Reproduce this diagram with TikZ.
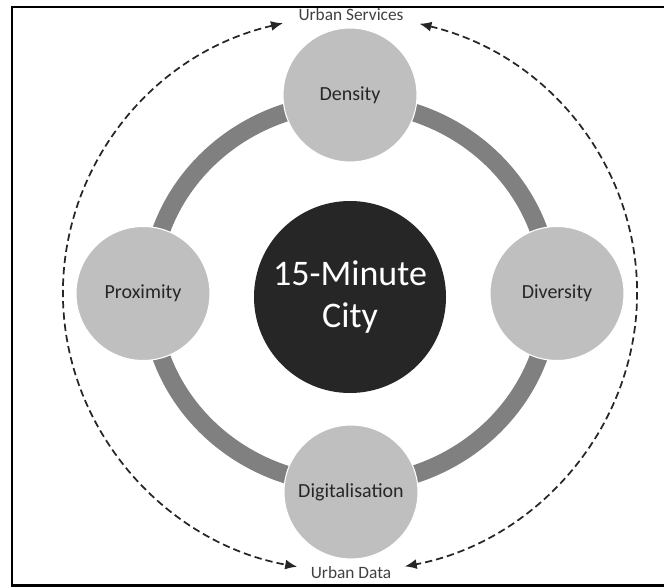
\documentclass[tikz,border=0pt]{standalone}
\usepackage{fontspec}
\setmainfont{Carlito}
\usepackage{tikz}
\usetikzlibrary{arrows.meta}
\definecolor{ringgray}{HTML}{808080}
\definecolor{discgray}{HTML}{BFBFBF}
\definecolor{coredark}{HTML}{262626}
\definecolor{labelgray}{HTML}{404040}

\begin{document}
\begin{tikzpicture}[x=0.75pt, y=0.75pt, >={Latex[length=9pt, width=7.5pt]},
    pillar/.style={draw=white, line width=0.8pt, shape=circle, fill=discgray, minimum size=100.5pt, inner sep=0pt, text=coredark, font=\fontsize{15}{18}\selectfont},
    rim/.style={text=labelgray, font=\fontsize{13}{15}\selectfont, inner sep=1pt},
    flow/.style={dash pattern=on 5.5pt off 3pt, line width=1.3pt, color=coredark}]
      \useasboundingbox (0,0) rectangle (664,587);
      % frame, open on the right
      \draw[line width=1.9pt] (664,580) -- (12,580) -- (12,1.5) -- (664,1.5);
      % ring joining the four pillars
      \coordinate (o) at (350,293.5);
      \draw[ringgray, line width=13.5pt] (o) ellipse [x radius=200, y radius=191];
      \node at (350,290)[shape=circle, fill=coredark, minimum size=144pt, inner sep=0pt, text=white, align=center, font=\fontsize{27}{31}\selectfont] (city){15-Minute\\City};
      \node at (350,492)[pillar] (p0){Density};
      \node at (557,293.5)[pillar] (p1){Diversity};
      \node at (351,95)[pillar] (p2){Digitalisation};
      \node at (143,293.5)[pillar] (p3){Proximity};
      \node at (351,572)[rim] (svc){Urban Services};
      \node at (351,14)[rim] (data){Urban Data};
      % dashed loop between services and data
      \path (o) ++(103.5:287 and 278) coordinate (s1);
      \path (o) ++(76:287 and 278) coordinate (s2);
      \draw[flow,<->] (s1) arc[start angle=103.5, end angle=259.4, x radius=287, y radius=278];
      \draw[flow,<->] (s2) arc[start angle=76, end angle=-79, x radius=287, y radius=278];
\end{tikzpicture}
\end{document}
